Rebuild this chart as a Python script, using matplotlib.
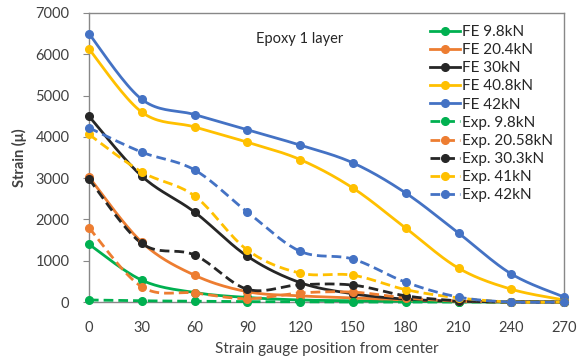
import numpy as np
import matplotlib
matplotlib.use("Agg")
import matplotlib.pyplot as plt

plt.rcParams['font.family'] = ['Lato', 'DejaVu Sans']

positions = [0, 30, 60, 90, 120, 150, 180, 210, 240, 270]

fe_98 = [1400, 530, 230, 110, 50, 30, 15, 5, 0, 0]
fe_204 = [3030, 1450, 650, 250, 150, 100, 50, 20, 5, 0]
fe_30 = [4500, 3050, 2180, 1110, 470, 200, 70, 20, 5, 0]
fe_408 = [6130, 4600, 4240, 3870, 3450, 2760, 1790, 820, 310, 50]
fe_42 = [6500, 4910, 4540, 4170, 3800, 3370, 2640, 1670, 680, 120]

exp_98 = [50, 30, 20, 10, 5, 0, 0, 0, 0, 0]
exp_2058 = [1800, 370, 220, 80, 220, 240, 100, 20, 0, 0]
exp_303 = [2980, 1420, 1140, 310, 420, 410, 150, 30, 0, 0]
exp_41 = [4060, 3150, 2570, 1260, 700, 650, 300, 100, 0, 0]
exp_42 = [4220, 3630, 3200, 2180, 1230, 1040, 480, 120, 0, 0]

series = [
    ("FE 9.8kN", fe_98, "#00B050", "-"),
    ("FE 20.4kN", fe_204, "#ED7D31", "-"),
    ("FE 30kN", fe_30, "#262626", "-"),
    ("FE 40.8kN", fe_408, "#FFC000", "-"),
    ("FE 42kN", fe_42, "#4472C4", "-"),
    ("Exp. 9.8kN", exp_98, "#00B050", (0, (3.5, 1.8))),
    ("Exp. 20.58kN", exp_2058, "#ED7D31", (0, (3.5, 1.8))),
    ("Exp. 30.3kN", exp_303, "#262626", (0, (3.5, 1.8))),
    ("Exp. 41kN", exp_41, "#FFC000", (0, (3.5, 1.8))),
    ("Exp. 42kN", exp_42, "#4472C4", (0, (3.5, 1.8))),
]


def smooth(x, y, n=20):
    # Catmull-Rom style smoothing (like Excel smoothed lines) for drawing only
    x = np.asarray(x, float)
    y = np.asarray(y, float)
    xs, ys = [], []
    for i in range(len(x) - 1):
        p0 = (x[max(i - 1, 0)], y[max(i - 1, 0)])
        p1 = (x[i], y[i])
        p2 = (x[i + 1], y[i + 1])
        p3 = (x[min(i + 2, len(x) - 1)], y[min(i + 2, len(x) - 1)])
        t = np.linspace(0, 1, n, endpoint=(i == len(x) - 2))
        c1 = (p1[0] + (p2[0] - p0[0]) / 6, p1[1] + (p2[1] - p0[1]) / 6)
        c2 = (p2[0] - (p3[0] - p1[0]) / 6, p2[1] - (p3[1] - p1[1]) / 6)
        bx = (1 - t) ** 3 * p1[0] + 3 * (1 - t) ** 2 * t * c1[0] + 3 * (1 - t) * t ** 2 * c2[0] + t ** 3 * p2[0]
        by = (1 - t) ** 3 * p1[1] + 3 * (1 - t) ** 2 * t * c1[1] + 3 * (1 - t) * t ** 2 * c2[1] + t ** 3 * p2[1]
        xs.append(bx)
        ys.append(by)
    return np.concatenate(xs), np.concatenate(ys)


fig = plt.figure(figsize=(5.81, 3.6), dpi=100)
ax = fig.add_axes([0.153, 0.161, 0.818, 0.803])

handles = []
for label, vals, color, ls in series:
    sx, sy = smooth(positions, vals)
    ax.plot(sx, sy, color=color, lw=2.0, ls=ls, clip_on=False, zorder=3)
    ax.plot(positions, vals, 'o', color=color, ms=5.5, clip_on=False, zorder=4)
    h, = ax.plot([], [], color=color, lw=2.0, ls=ls, marker='o', ms=5.5)
    handles.append(h)

ax.set_xlim(0, 270)
ax.set_ylim(0, 7000)
ax.set_xticks(positions)
ax.set_yticks(range(0, 7001, 1000))
txtc = "#404040"
ax.tick_params(axis='both', labelsize=10.5, colors=txtc, length=0, pad=14)
ax.tick_params(axis='y', length=4, direction='out', color='#888888', pad=10)
for s in ax.spines.values():
    s.set_color('#888888')
    s.set_linewidth(1.0)

ax.set_xlabel("Strain gauge position from center", fontsize=11, color=txtc, labelpad=5)
ax.set_ylabel("Strain (\u03bc)", fontsize=10.5, color=txtc, fontweight='bold', labelpad=6)

ax.text(95, 6280, "Epoxy 1 layer", fontsize=10.5, color='#262626')

leg = ax.legend(handles, [s[0] for s in series], loc='upper right',
                bbox_to_anchor=(1.0, 0.995), frameon=False, fontsize=11,
                labelspacing=0.27, handlelength=2.0, handletextpad=0.15,
                borderaxespad=0.3)
for t in leg.get_texts():
    t.set_color('#262626')

fig.savefig("out.png", dpi=100)
